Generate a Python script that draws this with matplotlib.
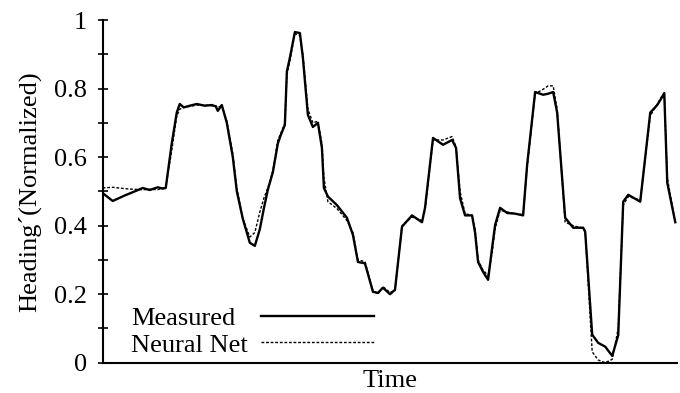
import numpy as np
import matplotlib
matplotlib.use("Agg")
import matplotlib.pyplot as plt

plt.rcParams['font.family'] = ['Liberation Serif', 'DejaVu Serif']

# time samples (arbitrary units) and normalized heading values
time = [0, 10, 22, 32, 40, 47, 55, 60, 63, 69, 74, 77, 81, 87, 94, 102, 109, 113, 115, 119,
        124, 130, 134, 140, 147, 152, 157, 161, 165, 170, 175, 178, 182, 184, 187, 192, 197,
        200, 205, 210, 215, 219, 221, 225, 234, 244, 250, 255, 262, 270, 275, 280, 287, 292,
        299, 309, 319, 322, 330, 340, 349, 353, 357, 362, 369, 372, 375, 380, 385, 389, 392,
        397, 404, 412, 420, 424, 432, 440, 445, 450, 454, 462, 470, 480, 482, 489, 495, 502,
        509, 515, 520, 525, 537, 547, 554, 559, 561, 564, 572]

measured = [0.495, 0.472, 0.488, 0.500, 0.510, 0.504, 0.512, 0.508, 0.510, 0.640, 0.730,
            0.755, 0.745, 0.750, 0.755, 0.750, 0.752, 0.748, 0.735, 0.752, 0.700, 0.600,
            0.500, 0.420, 0.350, 0.341, 0.390, 0.450, 0.505, 0.556, 0.640, 0.665, 0.694,
            0.850, 0.890, 0.965, 0.962, 0.890, 0.723, 0.688, 0.700, 0.627, 0.510, 0.485,
            0.460, 0.423, 0.373, 0.294, 0.290, 0.207, 0.204, 0.219, 0.200, 0.213, 0.397,
            0.430, 0.410, 0.452, 0.656, 0.636, 0.650, 0.627, 0.480, 0.430, 0.430, 0.380,
            0.294, 0.265, 0.242, 0.335, 0.402, 0.452, 0.437, 0.435, 0.430, 0.577, 0.790,
            0.782, 0.785, 0.790, 0.730, 0.423, 0.394, 0.394, 0.382, 0.082, 0.058, 0.047,
            0.020, 0.080, 0.470, 0.490, 0.470, 0.730, 0.752, 0.776, 0.787, 0.525, 0.410]

neural_net = [0.510, 0.512, 0.508, 0.506, 0.505, 0.506, 0.505, 0.510, 0.512, 0.620, 0.720,
              0.740, 0.745, 0.748, 0.752, 0.752, 0.750, 0.750, 0.745, 0.750, 0.705, 0.610,
              0.510, 0.420, 0.367, 0.380, 0.440, 0.480, 0.510, 0.560, 0.650, 0.670, 0.700,
              0.840, 0.880, 0.960, 0.955, 0.900, 0.740, 0.700, 0.705, 0.640, 0.540, 0.470,
              0.450, 0.415, 0.380, 0.300, 0.295, 0.210, 0.200, 0.222, 0.205, 0.210, 0.400,
              0.425, 0.415, 0.445, 0.650, 0.650, 0.660, 0.630, 0.500, 0.435, 0.430, 0.390,
              0.300, 0.270, 0.255, 0.320, 0.390, 0.445, 0.440, 0.435, 0.432, 0.570, 0.785,
              0.798, 0.808, 0.808, 0.740, 0.410, 0.400, 0.392, 0.385, 0.032, 0.008, 0.000,
              0.010, 0.100, 0.460, 0.485, 0.475, 0.720, 0.755, 0.780, 0.785, 0.540, 0.410]

series_names = ['Measured', 'Neural Net']

fig = plt.figure(figsize=(6.8, 3.93), dpi=100)
ax = fig.add_axes([0.151, 0.077, 0.845, 0.872])

l1, = ax.plot(time, measured, color='black', lw=1.7)
l2, = ax.plot(time, neural_net, color='black', lw=1.0, linestyle=(0, (2, 1.3)))

ax.set_xlim(0, 574)
ax.set_ylim(0, 1)
ax.spines['top'].set_visible(False)
ax.spines['right'].set_visible(False)
ax.spines['left'].set_linewidth(1.5)
ax.spines['bottom'].set_linewidth(1.5)

ax.set_yticks(np.arange(0, 1.01, 0.2))
ax.set_yticklabels(['0', '0.2', '0.4', '0.6', '0.8', '1'])
ax.set_yticks(np.arange(0.1, 1.0, 0.2), minor=True)
ax.tick_params(axis='y', which='both', direction='inout', length=7, width=1.2,
               labelsize=19, pad=8)
ax.set_xticks([])

ax.set_ylabel('Heading´(Normalized)', fontsize=19, labelpad=9)
ax.set_xlabel('Time', fontsize=19, labelpad=5)

# legend: labels left aligned, sample lines in their own column
ax.text(0.05, 0.111, series_names[0], transform=ax.transAxes, fontsize=19, va='baseline')
ax.text(0.05, 0.032, series_names[1], transform=ax.transAxes, fontsize=19, va='baseline')
ax.legend(handles=[l1, l2], labels=['', ''], loc='center left', bbox_to_anchor=(0.275, 0.091),
          frameon=False, handlelength=4.3, handletextpad=0, labelspacing=0.08,
          borderpad=0, borderaxespad=0, fontsize=19)

fig.savefig('out.png', dpi=100)
